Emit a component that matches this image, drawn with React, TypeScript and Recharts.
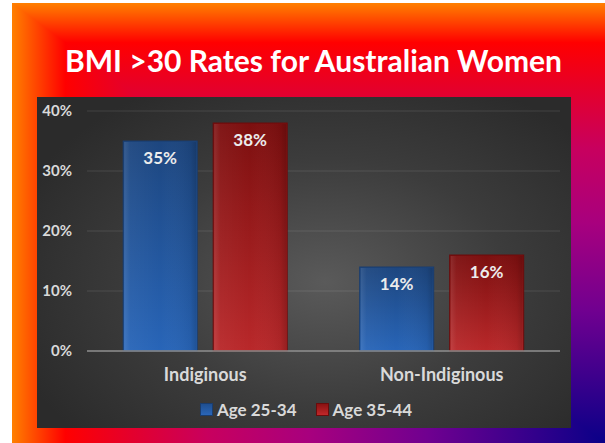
import React from "react";
import { Bar, BarChart, CartesianGrid, LabelList, Legend, XAxis, YAxis } from "recharts";

const categories = ["Indiginous", "Non-Indiginous"];
const age2534 = [0.35, 0.14];
const age3544 = [0.38, 0.16];
const seriesNames = ["Age 25-34", "Age 35-44"];
const yTicks = [0, 0.1, 0.2, 0.3, 0.4];

const data = categories.map((name, i) => ({ name, a: age2534[i], b: age3544[i] }));

const FONT = "Lato, 'Open Sans', sans-serif";
const TEXT = "#d9d9d9";

const bgStops = "#ff8000 0%, #ff0000 9%, #e4002c 20%, #c8005e 33%, #a8007e 50%, #700090 70%, #0a0088 100%";

const pct = (v: number) => `${Math.round(v * 100)}%`;

function BevelBar(props: any) {
  const { x, y, width, height, kind } = props;
  if (!height || height <= 0) return null;
  const stroke = kind === "blue" ? "#1a3d6e" : "#6a0c0c";
  return (
    <g>
      <rect x={x} y={y} width={width} height={height} fill={`url(#${kind}Grad)`} stroke={stroke} strokeWidth={1} />
      <rect x={x + 1} y={y + 1} width={width - 2} height={height - 2} fill="url(#bevelGrad)" />
    </g>
  );
}

function LegendBox() {
  const swatches = [
    "linear-gradient(#1f4f90, #2a66b8)",
    "linear-gradient(#8a1212, #c0282a)",
  ];
  const borders = ["#1a3d6e", "#6a0c0c"];
  return (
    <div style={{ display: "flex", justifyContent: "center", alignItems: "center", height: 37, gap: 19, paddingLeft: 4 }}>
      {seriesNames.map((n, i) => (
        <div key={n} style={{ display: "flex", alignItems: "center", gap: 4 }}>
          <span style={{ width: 11, height: 11, background: swatches[i], border: `1px solid ${borders[i]}`, display: "inline-block" }} />
          <span style={{ color: TEXT, fontFamily: FONT, fontWeight: 700, fontSize: 17 }}>{n}</span>
        </div>
      ))}
    </div>
  );
}

export default function App() {
  return (
    <div style={{ position: "absolute", left: 0, top: 0, width: 605, height: 443, overflow: "hidden", background: "#fff" }}>
      <div style={{ position: "absolute", left: 12, top: 3, width: 593, height: 440, background: `linear-gradient(to right, ${bgStops})` }} />
      <div
        style={{
          position: "absolute",
          left: 12,
          top: 3,
          width: 593,
          height: 440,
          background: `linear-gradient(to bottom, ${bgStops})`,
          clipPath: "polygon(0 0, 100% 0, 100% 100%)",
        }}
      />
      <div
        style={{
          position: "absolute",
          left: 0,
          top: 45,
          width: 627,
          textAlign: "center",
          color: "#fff",
          fontFamily: FONT,
          fontWeight: 700,
          fontSize: 30,
          lineHeight: "30px",
        }}
      >
        BMI &gt;30 Rates for Australian Women
      </div>
      <div
        style={{
          position: "absolute",
          left: 37,
          top: 97,
          width: 534,
          height: 331,
          background: "radial-gradient(ellipse 62% 68% at 54% 56%, #5a5a5a 0%, #3c3c3c 55%, #2b2b2b 100%)",
        }}
      >
        <BarChart
          width={534}
          height={331}
          data={data}
          margin={{ top: 14, right: 11, left: 0, bottom: 0 }}
          barCategoryGap="15.3%"
          barGap={16}
        >
          <defs>
            <linearGradient id="blueGrad" x1="0" y1="0" x2="0" y2="1">
              <stop offset="0%" stopColor="#1d467f" />
              <stop offset="100%" stopColor="#2865b8" />
            </linearGradient>
            <linearGradient id="redGrad" x1="0" y1="0" x2="0" y2="1">
              <stop offset="0%" stopColor="#7c0f0f" />
              <stop offset="100%" stopColor="#b9282a" />
            </linearGradient>
            <linearGradient id="bevelGrad" x1="0" y1="0" x2="1" y2="0">
              <stop offset="0%" stopColor="#ffffff" stopOpacity={0.12} />
              <stop offset="8%" stopColor="#ffffff" stopOpacity={0.04} />
              <stop offset="50%" stopColor="#ffffff" stopOpacity={0} />
              <stop offset="92%" stopColor="#000000" stopOpacity={0.06} />
              <stop offset="100%" stopColor="#000000" stopOpacity={0.18} />
            </linearGradient>
          </defs>
          <CartesianGrid vertical={false} stroke="rgba(255,255,255,0.11)" />
          <XAxis
            dataKey="name"
            height={40}
            tickLine={false}
            tickSize={0}
            tickMargin={17}
            axisLine={{ stroke: "#8c8c8c", strokeWidth: 1.5 }}
            tick={{ fill: TEXT, fontFamily: FONT, fontWeight: 700, fontSize: 18 }}
          />
          <YAxis
            width={50}
            domain={[0, 0.4]}
            ticks={yTicks}
            tickFormatter={pct}
            axisLine={false}
            tickLine={false}
            tickSize={0}
            tickMargin={15}
            tick={{ fill: TEXT, fontFamily: FONT, fontWeight: 700, fontSize: 15 }}
          />
          <Legend verticalAlign="bottom" height={37} content={<LegendBox />} wrapperStyle={{ left: 0, width: 534 }} />
          <Bar dataKey="a" name={seriesNames[0]} isAnimationActive={false} shape={<BevelBar kind="blue" />}>
            <LabelList
              dataKey="a"
              position="insideTop"
              offset={11}
              formatter={(v: any) => pct(Number(v))}
              fill="#ececec"
              style={{ fontFamily: FONT, fontWeight: 700, fontSize: 17 }}
            />
          </Bar>
          <Bar dataKey="b" name={seriesNames[1]} isAnimationActive={false} shape={<BevelBar kind="red" />}>
            <LabelList
              dataKey="b"
              position="insideTop"
              offset={11}
              formatter={(v: any) => pct(Number(v))}
              fill="#ececec"
              style={{ fontFamily: FONT, fontWeight: 700, fontSize: 17 }}
            />
          </Bar>
        </BarChart>
      </div>
    </div>
  );
}
